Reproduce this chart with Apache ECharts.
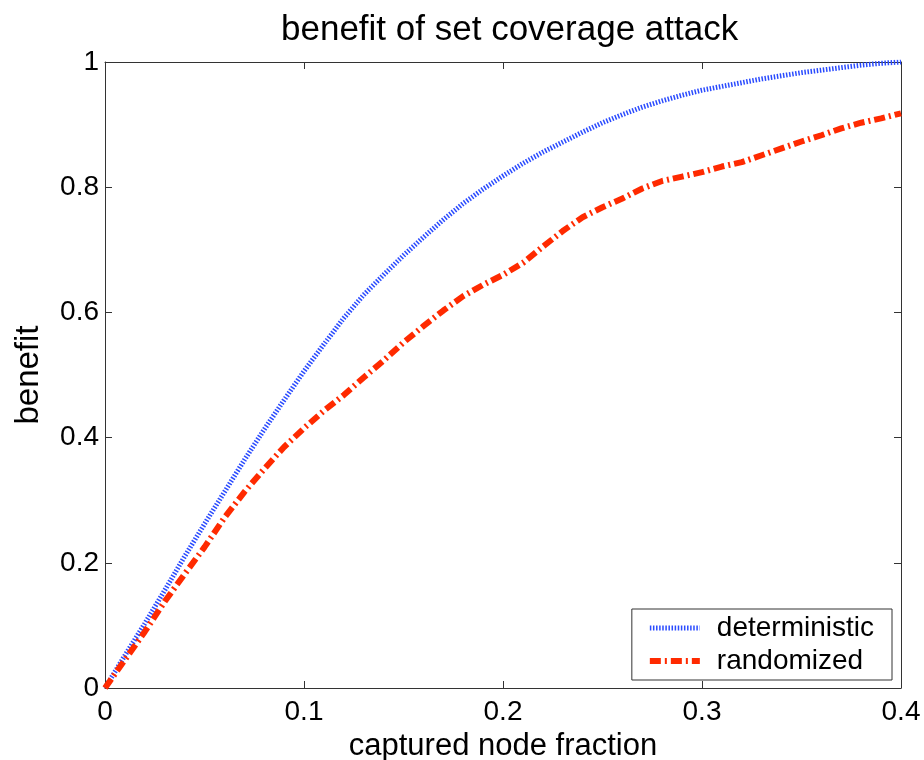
<!DOCTYPE html>
<html>
<head>
<meta charset="utf-8">
<script src="https://cdn.jsdelivr.net/npm/echarts@6/dist/echarts.min.js"></script>
<style>
  html, body { margin: 0; padding: 0; background: #fff; }
  #main { width: 924px; height: 760px; }
</style>
</head>
<body>
<div id="main"></div>
<script>
// captured node fraction
var xs = [0, 0.01, 0.02, 0.03, 0.04, 0.05, 0.06, 0.07, 0.08, 0.09,
          0.10, 0.11, 0.12, 0.13, 0.14, 0.15, 0.16, 0.17, 0.18, 0.19,
          0.20, 0.21, 0.22, 0.23, 0.24, 0.25, 0.26, 0.27, 0.28, 0.29,
          0.30, 0.31, 0.32, 0.33, 0.34, 0.35, 0.36, 0.37, 0.38, 0.39, 0.40];
var deterministic = [0, 0.052, 0.103, 0.156, 0.21, 0.262, 0.313, 0.364, 0.413, 0.46,
                     0.506, 0.549, 0.591, 0.628, 0.66, 0.691, 0.72, 0.748, 0.774, 0.797,
                     0.818, 0.838, 0.856, 0.872, 0.888, 0.903, 0.916, 0.928, 0.938, 0.947,
                     0.955, 0.961, 0.967, 0.973, 0.978, 0.983, 0.987, 0.991, 0.995, 0.998, 1.0];
var randomized = [0, 0.045, 0.09, 0.138, 0.182, 0.225, 0.272, 0.313, 0.35, 0.385,
                  0.415, 0.443, 0.468, 0.496, 0.523, 0.552, 0.578, 0.603, 0.626, 0.644,
                  0.66, 0.679, 0.705, 0.73, 0.752, 0.768, 0.782, 0.798, 0.81, 0.817,
                  0.824, 0.833, 0.84, 0.851, 0.862, 0.873, 0.883, 0.894, 0.903, 0.91, 0.918];
var xTicks = [0, 0.1, 0.2, 0.3, 0.4];
var yTicks = [0, 0.2, 0.4, 0.6, 0.8, 1];

var font = 'Liberation Sans, Arial, sans-serif';
var axisColor = '#333';
var blue = '#2a4bff';
var red = '#ff2a00';
var blueDash = [1.5, 1.6];
var redDash = [11, 4, 2, 4];

function pairs(ys) {
  return xs.map(function (x, i) { return [x, ys[i]]; });
}

// plain axis used for all four sides of the box
function boxAxis(extra) {
  var a = {
    type: 'value',
    axisLine: { show: true, onZero: false, lineStyle: { color: axisColor } },
    axisTick: { show: true, inside: true, length: 7, lineStyle: { color: axisColor } },
    axisLabel: { show: false },
    splitLine: { show: false }
  };
  for (var k in extra) a[k] = extra[k];
  return a;
}

var myChart = echarts.init(document.getElementById('main'));
myChart.setOption({
  animation: false,
  backgroundColor: '#fff',
  title: {
    text: 'benefit of set coverage attack',
    left: 276,
    top: 8,
    textStyle: { fontFamily: font, fontSize: 35, fontWeight: 'normal', color: '#000' }
  },
  legend: {
    right: 32,
    bottom: 80,
    orient: 'vertical',
    itemWidth: 50,
    itemHeight: 14,
    itemGap: 5,
    padding: [5, 18, 5, 15],
    borderColor: '#333',
    borderWidth: 1,
    borderRadius: 0,
    backgroundColor: '#fff',
    itemStyle: { opacity: 0 },
    textStyle: { fontFamily: font, fontSize: 28, color: '#000', padding: [0, 0, 0, 12] },
    data: [
      { name: 'deterministic', lineStyle: { width: 5, type: blueDash, color: blue } },
      { name: 'randomized', lineStyle: { width: 6, type: redDash, color: red } }
    ]
  },
  grid: { left: 105, right: 23, top: 62, bottom: 72, outerBoundsMode: 'none', containLabel: false },
  xAxis: [boxAxis({
    min: 0, max: 0.4, interval: 0.1,
    name: 'captured node fraction',
    nameLocation: 'middle',
    nameGap: 42,
    nameTextStyle: { fontFamily: font, fontSize: 31, color: '#000' },
    axisLabel: {
      show: true,
      fontFamily: font, fontSize: 28, color: '#000', margin: 10,
      formatter: function (v) { return xTicks.indexOf(+v.toFixed(2)) >= 0 ? String(+v.toFixed(2)) : ''; }
    }
  }), boxAxis({
    position: 'top',
    min: 0, max: 0.4, interval: 0.1
  })],
  yAxis: [boxAxis({
    min: 0, max: 1, interval: 0.2,
    name: 'benefit',
    nameLocation: 'middle',
    nameGap: 60,
    nameTextStyle: { fontFamily: font, fontSize: 33, color: '#000' },
    axisLabel: {
      show: true,
      fontFamily: font, fontSize: 28, color: '#000', margin: 6,
      formatter: function (v) { return yTicks.indexOf(+v.toFixed(1)) >= 0 ? String(+v.toFixed(1)) : ''; }
    }
  }), boxAxis({
    position: 'right',
    min: 0, max: 1, interval: 0.2
  })],
  series: [{
    name: 'deterministic',
    type: 'line',
    showSymbol: false,
    symbol: 'none',
    color: blue,
    lineStyle: { width: 5, type: blueDash, color: blue, cap: 'butt' },
    data: pairs(deterministic)
  }, {
    name: 'randomized',
    type: 'line',
    showSymbol: false,
    symbol: 'none',
    color: red,
    lineStyle: { width: 6, type: redDash, color: red, cap: 'butt' },
    data: pairs(randomized)
  }]
});
</script>
</body>
</html>
